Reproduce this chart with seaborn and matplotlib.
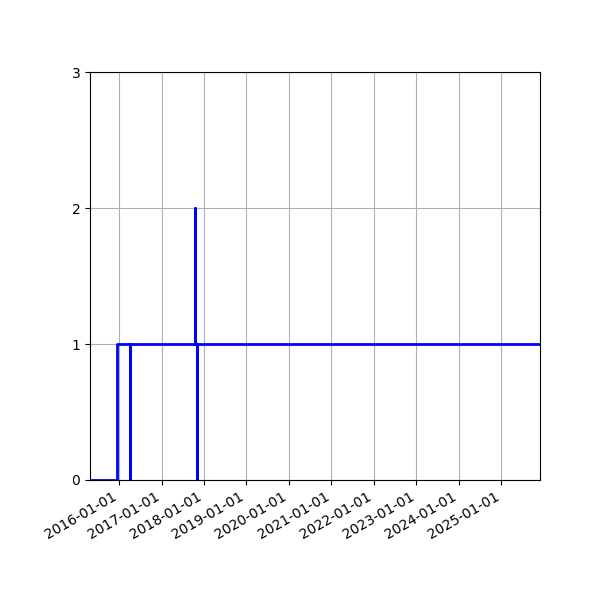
import matplotlib
matplotlib.use("Agg")
import matplotlib.pyplot as plt
import matplotlib.dates as mdates
import pandas as pd
import seaborn as sns

# change points of the count (step held until the next date)
dates = ["2015-04-26", "2015-12-12", "2016-04-02", "2016-04-03",
         "2017-10-16", "2017-10-19", "2017-10-31", "2017-11-01", "2025-11-30"]
counts = [0, 1, 0, 1, 2, 1, 0, 1, 1]

df = pd.DataFrame({"date": pd.to_datetime(dates), "count": counts})

fig, ax = plt.subplots(figsize=(6, 6), dpi=100)
sns.lineplot(x="date", y="count", data=df, ax=ax, color="blue",
             drawstyle="steps-post", linewidth=2, estimator=None, sort=False)

ax.set_xlim(df["date"].iloc[0], df["date"].iloc[-1])
ax.set_ylim(0, 3)
ax.set_yticks([0, 1, 2, 3])
ax.xaxis.set_major_locator(mdates.YearLocator())
ax.xaxis.set_major_formatter(mdates.DateFormatter("%Y-%m-%d"))
ax.set_xlabel("")
ax.set_ylabel("")
ax.grid(True)
fig.autofmt_xdate()
fig.subplots_adjust(left=0.15, right=0.9, top=0.88, bottom=0.2)

fig.savefig("out.png")
